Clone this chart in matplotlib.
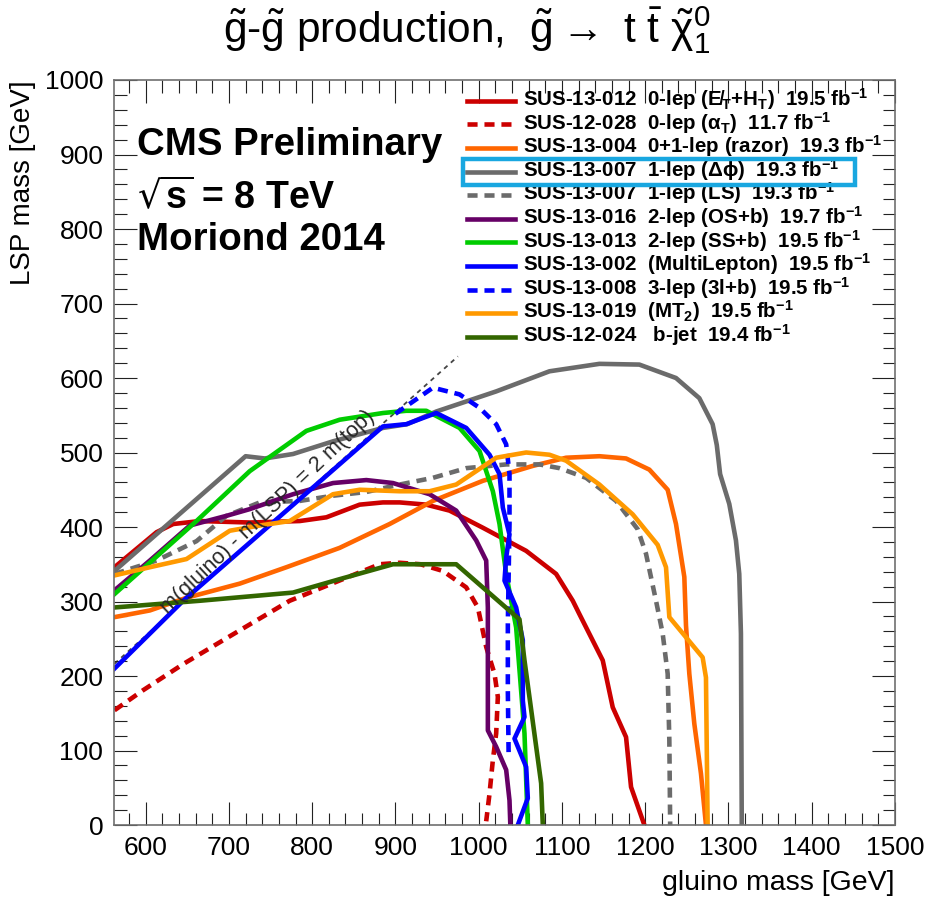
import matplotlib.pyplot as plt
from matplotlib.patches import Rectangle
from matplotlib.ticker import MultipleLocator

plt.rcParams['font.family'] = ['Liberation Sans', 'DejaVu Sans']
plt.rcParams['mathtext.default'] = 'regular'

# observed exclusion contours: gluino mass vs LSP mass [GeV]
red_x = [562.5, 613, 633, 665, 725, 785, 817, 857, 885, 905, 937, 965, 1005, 1057, 1093, 1113, 1121, 1149, 1161, 1177, 1183, 1199]
red_y = [346, 393, 404, 408, 406, 408, 413, 430, 433, 433, 430, 422, 399, 368, 337, 301, 283, 221, 158, 118, 51, 0]

alphat_x = [562.5, 597, 645, 705, 773, 881, 905, 930, 957, 985, 999, 1009, 1019, 1023, 1021, 1017, 1013, 1009]
alphat_y = [154, 181, 216, 256, 301, 350, 352, 350, 341, 319, 292, 239, 203, 172, 123, 87, 42, 5]

razor_x = [562.5, 605, 649, 713, 769, 833, 893, 945, 1005, 1065, 1105, 1145, 1177, 1205, 1227, 1237, 1247, 1249, 1253, 1259, 1267, 1273]
razor_y = [279, 288, 305, 324, 346, 372, 404, 435, 462, 482, 493, 495, 492, 477, 450, 404, 333, 268, 203, 136, 69, 0]

dphi_x = [562.5, 720, 743, 777, 825, 885, 914, 949, 1021, 1085, 1145, 1193, 1237, 1265, 1281, 1286, 1290, 1301, 1309, 1313, 1315, 1316]
dphi_y = [341, 495, 492, 498, 515, 533, 538, 555, 582, 609, 619, 618, 600, 573, 538, 510, 471, 431, 382, 337, 257, 0]

ls_x = [562.5, 613, 661, 697, 737, 785, 825, 865, 905, 945, 985, 1033, 1073, 1097, 1129, 1165, 1191, 1201, 1213, 1221, 1227, 1229, 1230]
ls_y = [337, 355, 381, 415, 433, 435, 442, 447, 457, 466, 479, 484, 484, 479, 466, 435, 397, 364, 301, 257, 203, 114, 0]

osb_x = [562.5, 605, 653, 697, 725, 777, 825, 865, 897, 941, 973, 997, 1009, 1011, 1011, 1021, 1033, 1037, 1038]
osb_y = [315, 355, 402, 415, 424, 444, 459, 463, 459, 444, 422, 382, 355, 292, 127, 105, 74, 33, 0]

ssb_x = [562.5, 661, 725, 793, 833, 885, 913, 937, 977, 1001, 1017, 1025, 1033, 1045, 1055, 1059]
ssb_y = [310, 408, 475, 529, 544, 553, 556, 556, 533, 502, 448, 404, 337, 265, 123, 0]

multilep_x = [562.5, 645, 885, 913, 949, 985, 1013, 1025, 1029, 1037, 1033, 1031, 1045, 1053, 1053, 1055, 1043, 1057, 1059, 1047]
multilep_y = [210, 301, 535, 538, 553, 533, 497, 471, 426, 390, 359, 328, 292, 248, 167, 145, 116, 78, 36, 0]

trilep_x = [900, 945, 977, 1001, 1021, 1033, 1037, 1037, 1035, 1035, 1036]
trilep_y = [552, 587, 578, 560, 538, 511, 471, 404, 270, 180, 91]

mt2_x = [562.5, 605, 649, 701, 737, 773, 825, 857, 905, 941, 973, 1021, 1057, 1085, 1105, 1145, 1185, 1215, 1225, 1229, 1269, 1273, 1275]
mt2_y = [335, 346, 357, 395, 402, 408, 444, 450, 448, 448, 457, 493, 500, 497, 489, 457, 417, 376, 346, 279, 225, 198, 0]

bjet_x = [562.5, 665, 777, 833, 897, 973, 1049, 1055, 1075, 1077]
bjet_y = [292, 301, 312, 330, 350, 350, 276, 221, 56, 0]

# kinematic limit m(gluino) - m(LSP) = 2 m(top)
two_mtop = 346
diag_x = [562.5, 975]
diag_y = [x - two_mtop for x in diag_x]

labels = [
    'SUS-13-012  0-lep (E\u0338$_T$+H$_T$)  19.5 fb$^{-1}$',
    'SUS-12-028  0-lep ($\\alpha_T$)  11.7 fb$^{-1}$',
    'SUS-13-004  0+1-lep (razor)  19.3 fb$^{-1}$',
    'SUS-13-007  1-lep ($\\Delta\\phi$)  19.3 fb$^{-1}$',
    'SUS-13-007  1-lep (LS)  19.3 fb$^{-1}$',
    'SUS-13-016  2-lep (OS+b)  19.7 fb$^{-1}$',
    'SUS-13-013  2-lep (SS+b)  19.5 fb$^{-1}$',
    'SUS-13-002  (MultiLepton)  19.5 fb$^{-1}$',
    'SUS-13-008  3-lep (3l+b)  19.5 fb$^{-1}$',
    'SUS-13-019  (MT$_2$)  19.5 fb$^{-1}$',
    'SUS-12-024   b-jet  19.4 fb$^{-1}$',
]

dash = (2.2, 1.5)
curves = [
    (red_x, red_y, '#cc0000', None),
    (alphat_x, alphat_y, '#cc0000', dash),
    (razor_x, razor_y, '#ff6600', None),
    (dphi_x, dphi_y, '#6b6b6b', None),
    (ls_x, ls_y, '#6b6b6b', dash),
    (osb_x, osb_y, '#660066', None),
    (ssb_x, ssb_y, '#00cc00', None),
    (multilep_x, multilep_y, '#0000ff', None),
    (trilep_x, trilep_y, '#0000ff', dash),
    (mt2_x, mt2_y, '#ff9900', None),
    (bjet_x, bjet_y, '#336600', None),
]

fig = plt.figure(figsize=(9.3, 9.06), dpi=100)
ax = fig.add_axes([0.1231, 0.0894, 0.8392, 0.8223])

ax.plot(diag_x, diag_y, color='#444444', lw=1.3, dashes=(2.5, 2.5), zorder=1)

lw = 3.3
for x, y, c, d in curves:
    if d is None:
        ax.plot(x, y, color=c, lw=lw, solid_joinstyle='round', zorder=2)
    else:
        ax.plot(x, y, color=c, lw=lw, dashes=d, zorder=2)

ax.text(747, 420, 'm(gluino) - m(LSP) = 2 m(top)', fontsize=15.5, color='#262626',
        rotation=43.4, rotation_mode='anchor', ha='center', va='center', zorder=6)

# hand-built legend in axes coordinates
row_y0, row_dy = 100.7, 23.6
for i, ((x, y, c, d), lab) in enumerate(zip(curves, labels)):
    py = row_y0 + i * row_dy
    ya = (825 - py) / 745
    kw = dict(color=c, lw=lw, transform=ax.transAxes, clip_on=False)
    if d is not None:
        kw['dashes'] = d
    ax.plot([0.4516, 0.5131], [ya, ya], **kw)
    ax.text(0.5234, (825 - py - 5) / 745, lab, transform=ax.transAxes,
            fontsize=14.8, fontweight='bold', va='baseline', ha='left')

ax.add_patch(Rectangle((0.4465, 0.859), 0.9487 - 0.4465, 0.894 - 0.859,
                       transform=ax.transAxes, fill=False, ec='#19a7e0', lw=3.2,
                       clip_on=False, zorder=5))

ax.text(0.0288, 0.8993, 'CMS Preliminary', transform=ax.transAxes,
        fontsize=27.6, fontweight='bold', va='baseline')
ax.text(0.0288, 0.8282, '$\\sqrt{s}$ = 8 TeV', transform=ax.transAxes,
        fontsize=27, fontweight='bold', va='baseline')
ax.text(0.0288, 0.7718, 'Moriond 2014', transform=ax.transAxes,
        fontsize=27.6, fontweight='bold', va='baseline')

fig.text(0.502, 0.9536,
         '$\\tilde{g}$-$\\tilde{g}$ production,  $\\tilde{g}\\rightarrow$ t $\\bar{t}$ $\\tilde{\\chi}^0_1$',
         fontsize=30.5, ha='center', va='baseline')

ax.set_xlim(562.5, 1500)
ax.set_ylim(0, 1000)
ax.xaxis.set_major_locator(MultipleLocator(100))
ax.xaxis.set_minor_locator(MultipleLocator(20))
ax.yaxis.set_major_locator(MultipleLocator(100))
ax.yaxis.set_minor_locator(MultipleLocator(20))
ax.tick_params(which='both', direction='in', top=True, right=True, width=0.8, color='#222222')
ax.tick_params(which='major', length=16.5, labelsize=19, pad=8)
ax.tick_params(which='minor', length=9)
for s in ax.spines.values():
    s.set_color('#707070')
    s.set_linewidth(1.2)

ax.set_xlabel('gluino mass [GeV]', fontsize=20.5, loc='right')
ax.xaxis.set_label_coords(1.0, -0.06)
ax.set_ylabel('LSP mass [GeV]', fontsize=20, loc='top')
ax.yaxis.set_label_coords(-0.1006, 1.0)

fig.savefig('out.png', dpi=100)
